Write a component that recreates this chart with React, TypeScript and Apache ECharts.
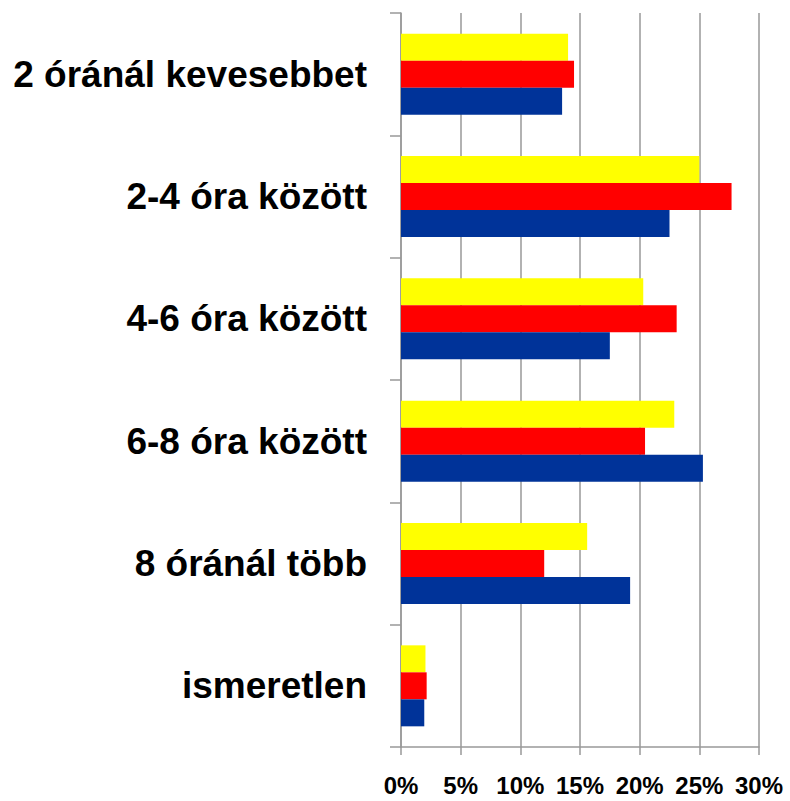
import React, { useEffect, useRef } from "react";
import * as echarts from "echarts";

const categories = [
  "2 óránál kevesebbet",
  "2-4 óra között",
  "4-6 óra között",
  "6-8 óra között",
  "8 óránál több",
  "ismeretlen",
];
const yellowValues = [14.0, 25.0, 20.3, 22.9, 15.6, 2.05];
const redValues = [14.5, 27.7, 23.1, 20.45, 12.0, 2.15];
const blueValues = [13.5, 22.5, 17.5, 25.3, 19.2, 1.95];
const xTicks = [0, 5, 10, 15, 20, 25, 30];

export default function App() {
  const ref = useRef<HTMLDivElement>(null);
  useEffect(() => {
    if (!ref.current) return;
    const chart = echarts.init(ref.current, undefined, { renderer: "svg" });
    const mk = (name: string, data: number[], color: string) => ({
      name,
      type: "bar",
      data,
      barWidth: 27,
      barGap: "0%",
      barCategoryGap: "33%",
      itemStyle: { color },
    });
    chart.setOption({
      animation: false,
      backgroundColor: "#ffffff",
      grid: { left: 401, right: 31, top: 13, bottom: 54, containLabel: false },
      xAxis: {
        type: "value",
        min: xTicks[0],
        max: xTicks[xTicks.length - 1],
        interval: 5,
        axisLine: { show: true, lineStyle: { color: "#999999", width: 1.5 } },
        axisTick: { show: true, length: 8, lineStyle: { color: "#999999", width: 1.5 } },
        splitLine: { show: true, lineStyle: { color: "#999999", width: 1.5 } },
        axisLabel: {
          formatter: (v: number) => v + "%",
          fontFamily: "Liberation Sans, Arial, sans-serif",
          fontWeight: "bold",
          fontSize: 24,
          lineHeight: 24,
          color: "#000000",
          margin: 26,
          hideOverlap: false,
          showMaxLabel: true,
          showMinLabel: true,
        },
      },
      yAxis: {
        type: "category",
        data: categories,
        inverse: true,
        axisLine: { show: true, onZero: false, lineStyle: { color: "#999999", width: 1.5 } },
        axisTick: { show: true, length: 11, lineStyle: { color: "#999999", width: 1.5 } },
        axisLabel: {
          fontFamily: "Liberation Sans, Arial, sans-serif",
          fontWeight: "bold",
          fontSize: 37,
          color: "#000000",
          margin: 34,
        },
        splitLine: { show: false },
      },
      series: [
        mk("A", yellowValues, "#FFFF00"),
        mk("B", redValues, "#FF0000"),
        mk("C", blueValues, "#003399"),
      ],
    });
    return () => chart.dispose();
  }, []);
  return <div ref={ref} style={{ width: 790, height: 801, position: "absolute", left: 0, top: 0 }} />;
}
